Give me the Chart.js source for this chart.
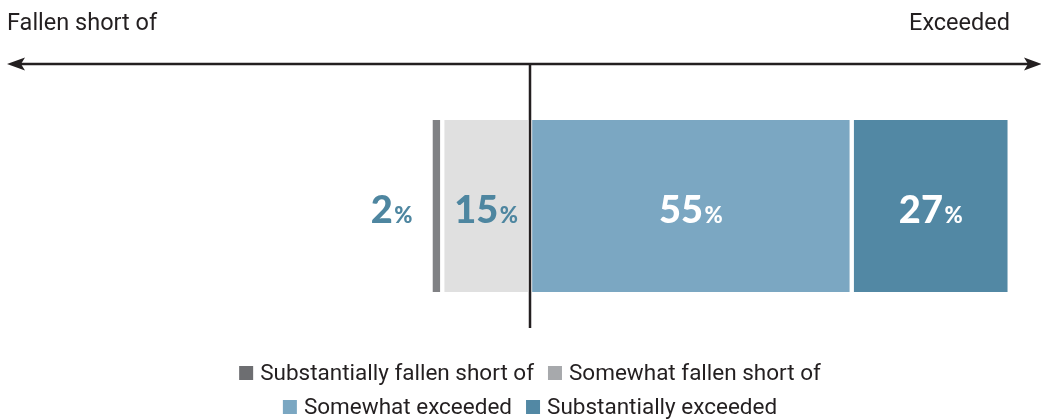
<!DOCTYPE html>
<html>
<head>
<meta charset="utf-8">
<script src="https://cdn.jsdelivr.net/npm/chart.js@4/dist/chart.umd.min.js"></script>
<style>
  html, body { margin: 0; padding: 0; background: #ffffff; }
  #wrap { position: relative; width: 1041px; height: 419px; }
</style>
</head>
<body>
<div id="wrap"><canvas id="c" width="1041" height="419"></canvas></div>
<script>
// ---- data ----
const categories = ['Result'];
const seriesLabels = ['Substantially fallen short of', 'Somewhat fallen short of', 'Somewhat exceeded', 'Substantially exceeded'];
const seriesValues = [2, 15, 55, 27];
const seriesSide = [-1, -1, 1, 1];
const sideLabels = ['Fallen short of', 'Exceeded'];
const legendRows = [[0, 1], [2, 3]];

// ---- styles ----
const barColors = ['#808184', '#e0e0e0', '#7ba7c2', '#5288a4'];
const legendColors = ['#6d6e71', '#a7a9ac', '#7ba7c2', '#5288a4'];
const labelColors = ['#4e86a0', '#4e86a0', '#ffffff', '#ffffff'];
const ink = '#231f20';
const textFont = 'Roboto, "Liberation Sans", sans-serif';
const numFont = 'Lato, Roboto, sans-serif';

// floating segments built from values, stacking outward from zero on each side
function buildRanges() {
  const ranges = new Array(seriesValues.length);
  let neg = 0, pos = 0;
  for (let i = seriesValues.length - 1; i >= 0; i--) {
    if (seriesSide[i] < 0) { ranges[i] = [neg - seriesValues[i], neg]; neg -= seriesValues[i]; }
  }
  for (let i = 0; i < seriesValues.length; i++) {
    if (seriesSide[i] > 0) { ranges[i] = [pos, pos + seriesValues[i]]; pos += seriesValues[i]; }
  }
  return ranges;
}
const ranges = buildRanges();

const datasets = seriesLabels.map((lab, i) => ({
  label: lab,
  data: [ranges[i]],
  backgroundColor: barColors[i],
  borderColor: '#ffffff',
  borderWidth: { left: 2.5, right: 2.5, top: 0, bottom: 0 },
  borderSkipped: false,
  barPercentage: 1,
  categoryPercentage: 1,
  grouped: false
}));

const decorPlugin = {
  id: 'decor',
  afterDatasetsDraw(chart) {
    const ctx = chart.ctx;
    const xs = chart.scales.x;
    const x0 = xs.getPixelForValue(0);
    const W = chart.width;
    ctx.save();

    // side captions
    ctx.fillStyle = ink;
    ctx.font = '23.5px ' + textFont;
    ctx.textBaseline = 'alphabetic';
    ctx.textAlign = 'left';
    ctx.fillText(sideLabels[0], 7, 30);
    ctx.textAlign = 'right';
    ctx.fillText(sideLabels[1], 1010, 30);

    // arrow line
    const ay = 64;
    ctx.strokeStyle = ink;
    ctx.lineWidth = 2.5;
    ctx.beginPath();
    ctx.moveTo(14, ay);
    ctx.lineTo(W - 6, ay);
    ctx.stroke();
    ctx.fillStyle = ink;
    ctx.beginPath();
    ctx.moveTo(7, ay);
    ctx.lineTo(25, ay - 6.5);
    ctx.lineTo(21, ay);
    ctx.lineTo(25, ay + 6.5);
    ctx.closePath();
    ctx.fill();
    ctx.beginPath();
    ctx.moveTo(W + 1, ay);
    ctx.lineTo(W - 17, ay - 6.5);
    ctx.lineTo(W - 13, ay);
    ctx.lineTo(W - 17, ay + 6.5);
    ctx.closePath();
    ctx.fill();

    // zero line
    ctx.lineWidth = 2.5;
    ctx.beginPath();
    ctx.moveTo(x0, ay);
    ctx.lineTo(x0, 328);
    ctx.stroke();

    // value labels
    chart.data.datasets.forEach((ds, i) => {
      const bar = chart.getDatasetMeta(i).data[0];
      const left = Math.min(bar.x, bar.base);
      const right = Math.max(bar.x, bar.base);
      const cy = bar.y;
      const num = String(seriesValues[i]);
      ctx.font = '900 38px ' + numFont;
      const wn = ctx.measureText(num).width;
      ctx.font = '900 22px ' + numFont;
      const wp = ctx.measureText('%').width;
      const gap = 1.5;
      const tw = wn + gap + wp;
      let sx;
      if (right - left < tw + 16) {
        sx = left - 18 - tw;
      } else {
        sx = (left + right) / 2 - tw / 2;
      }
      ctx.fillStyle = labelColors[i];
      ctx.textAlign = 'left';
      ctx.textBaseline = 'alphabetic';
      ctx.font = '900 38px ' + numFont;
      ctx.fillText(num, sx, cy + 17);
      ctx.font = '900 22px ' + numFont;
      ctx.fillText('%', sx + wn + gap, cy + 17);
    });

    // legend
    ctx.font = '22.5px ' + textFont;
    const box = 14, boxGap = 7, itemGap = 14;
    const rowBase = [380, 414];
    legendRows.forEach((row, r) => {
      const widths = row.map(i => box + boxGap + ctx.measureText(seriesLabels[i]).width);
      const total = widths.reduce((a, b) => a + b, 0) + itemGap * (row.length - 1);
      let x = x0 - total / 2;
      row.forEach((i, k) => {
        ctx.fillStyle = legendColors[i];
        ctx.fillRect(x, rowBase[r] - 14, box, box);
        ctx.fillStyle = ink;
        ctx.textAlign = 'left';
        ctx.textBaseline = 'alphabetic';
        ctx.fillText(seriesLabels[i], x + box + boxGap, rowBase[r]);
        x += widths[k] + itemGap;
      });
    });
    ctx.restore();
  }
};

new Chart(document.getElementById('c'), {
  type: 'bar',
  data: { labels: categories, datasets },
  options: {
    indexAxis: 'y',
    responsive: false,
    animation: false,
    layout: { padding: { top: 120, bottom: 127, left: 0, right: 0 } },
    scales: {
      x: { display: false, min: -90.6, max: 87.35 },
      y: { display: false }
    },
    plugins: {
      legend: { display: false },
      tooltip: { enabled: false }
    }
  },
  plugins: [decorPlugin]
});
</script>
</body>
</html>
